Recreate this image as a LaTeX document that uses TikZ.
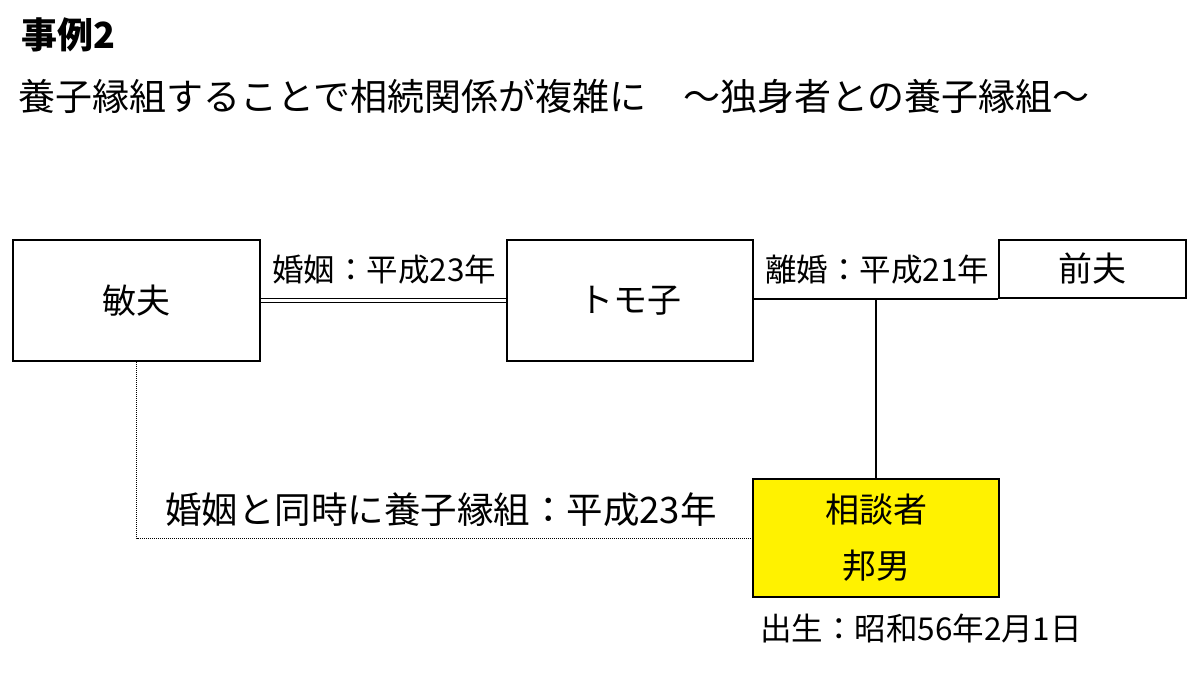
\documentclass[tikz,border=0pt]{standalone}
\usepackage{fontspec}
\setmainfont{Noto Sans CJK JP}
\begin{document}
\begin{tikzpicture}[x=1pt,y=-1pt,
  person/.style={draw=black,line width=1.8pt,fill=white,inner sep=0pt,font=\fontsize{34}{40}\selectfont},
  lbl/.style={inner sep=0pt,font=\fontsize{31.5}{36}\selectfont},
  marriage/.style={double=white,double distance=3pt,line width=1.3pt},
  adopt/.style={line width=1pt,dash pattern=on 1pt off 1pt,black},
  link/.style={line width=1.6pt}]
\useasboundingbox (0,0) rectangle (1200,673);
\node[anchor=west,inner sep=0pt,font=\fontsize{36}{40}\selectfont\bfseries] (title) at (21,35) {事例2};
\node[anchor=west,inner sep=0pt,font=\fontsize{37}{42}\selectfont] (sub) at (18,96) {養子縁組することで相続関係が複雑に　～独身者との養子縁組～};
\node[person,minimum width=247pt,minimum height=121pt] (toshio) at (136.5,300.5) {敏夫};
\node[person,minimum width=246pt,minimum height=121pt] (tomoko) at (630,300.5) {トモ子};
\node[person,minimum width=187pt,minimum height=58pt] (zenpu) at (1092.5,269) {前夫};
\node[person,fill=yellow,minimum width=246pt,minimum height=118pt,align=center] (kunio) at (876,538) {相談者\\[16pt]邦男};
\draw[marriage] (toshio.east) -- (tomoko.west);
\draw[link] (tomoko.east |- zenpu.south) -- (zenpu.south west);
\draw[link] (kunio.north |- zenpu.south) -- (kunio.north);
\draw[adopt] (toshio.south) |- (kunio.west);
\node[lbl] (l1) at (384,270) {婚姻：平成23年};
\node[lbl] (l2) at (877,270) {離婚：平成21年};
\node[lbl,font=\fontsize{36.5}{42}\selectfont] (l3) at (441,510) {婚姻と同時に養子縁組：平成23年};
\node[lbl] (l4) at (921,628) {出生：昭和56年2月1日};
\end{tikzpicture}
\end{document}
